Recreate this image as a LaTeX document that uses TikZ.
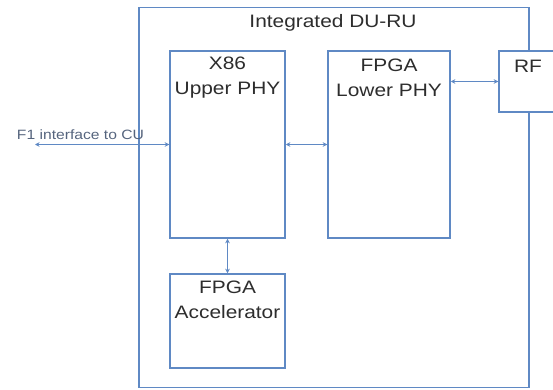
\documentclass[tikz,border=0pt]{standalone}
\usepackage{fontspec}
\setmainfont[FakeStretch=1.16]{Liberation Sans}
\usetikzlibrary{arrows.meta}
\definecolor{boxblue}{RGB}{95,137,196}
\definecolor{txt}{RGB}{45,45,45}
\definecolor{lbl}{RGB}{85,100,125}
\begin{document}
\begin{tikzpicture}[x=1pt,y=-1pt,
  box/.style={draw=boxblue,line width=1.5pt,fill=white,rectangle,inner sep=0pt},
  boxtext/.style={text=txt,align=center,font=\fontsize{18}{25}\selectfont,inner sep=0pt},
  arr/.style={draw=boxblue,line width=1.3pt,{Stealth[length=4.5pt,width=4.5pt]}-{Stealth[length=4.5pt,width=4.5pt]}}]
\useasboundingbox (0,0) rectangle (553,390);
\clip (0,0) rectangle (553,390);
\node[box,minimum width=390pt,minimum height=380pt] (outer) at (334,197.5) {};
\node[boxtext] (title) at (333,23) {Integrated DU-RU};
\node[box,minimum width=115pt,minimum height=187pt] (x86) at (227.5,144.5) {};
\node[boxtext] (x86t) at (227.5,78) {X86\\Upper PHY};
\node[box,minimum width=122pt,minimum height=187pt] (lower) at (389,144.5) {};
\node[boxtext] (lowert) at (389,78) {FPGA\\Lower PHY};
\node[box,minimum width=58pt,minimum height=61pt] (rf) at (528,81.5) {};
\node[boxtext] (rft) at (528,66) {RF};
\node[box,minimum width=115pt,minimum height=94pt] (acc) at (227.5,321) {};
\node[boxtext] (acct) at (227.5,300) {FPGA\\Accelerator};
\coordinate (f1) at (35,144.5);
\node[text=lbl,inner sep=0pt,font=\fontsize{13.5}{16}\selectfont] (f1lab) at (80.5,135) {F1 interface to CU};
\draw[arr] (f1) -- (x86.west);
\draw[arr] (x86.east) -- (lower.west);
\draw[arr] (lower.east |- rf.west) -- (rf.west);
\draw[arr] (x86.south) -- (acc.north);
\end{tikzpicture}
\end{document}
